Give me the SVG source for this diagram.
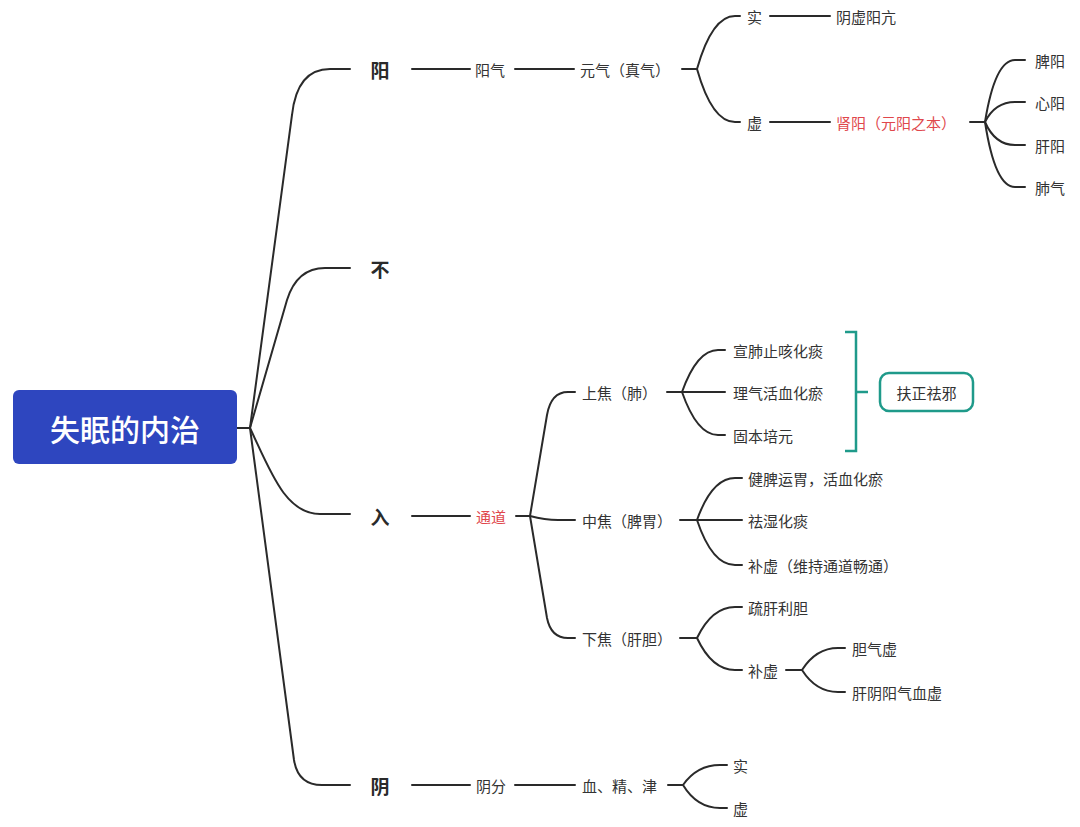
<svg xmlns="http://www.w3.org/2000/svg" width="1080" height="827" viewBox="0 0 1080 827">
<style>
.l{fill:none;stroke:#2a2a2a;stroke-width:2;stroke-linecap:round}
.t{font-family:"Noto Sans CJK SC","Noto Sans",sans-serif;font-size:15px;fill:#333;dominant-baseline:central}
.b{font-family:"Noto Sans CJK SC","Noto Sans",sans-serif;font-size:19px;font-weight:bold;fill:#2a2a2a;dominant-baseline:central;text-anchor:middle}
.r{fill:#e0474c}
.tl{fill:none;stroke:#1f9a8a;stroke-width:2.5}
</style>
<rect width="1080" height="827" fill="#fff"/>
<g id="connectors">
<path class="l" d="M237,428 H250"/>
<path class="l" d="M250,428 L292,115 Q297,69 330,69 H350"/>
<path class="l" d="M250,428 L287,300 Q297,268 325,268 H350"/>
<path class="l" d="M250,428 C270,470 285,514 320,514 H350"/>
<path class="l" d="M250,428 L294,760 Q298,785 322,785 H350"/>
<path class="l" d="M412,69 H470 M515,69 H574 M682,69 H697"/>
<path class="l" d="M697,69 Q712,16 735,16 H740"/>
<path class="l" d="M697,69 Q712,122 735,122 H740"/>
<path class="l" d="M770,16 H830 M770,122 H830 M970,122 H985"/>
<path class="l" d="M985,122 Q995,60 1015,60 H1025"/>
<path class="l" d="M985,122 Q995,102 1015,102 H1025"/>
<path class="l" d="M985,122 Q995,145 1015,145 H1025"/>
<path class="l" d="M985,122 Q995,187 1015,187 H1025"/>
<path class="l" d="M412,516 H470 M516,516 H530"/>
<path class="l" d="M530,516 L547,415 Q551,392 568,392 H575"/>
<path class="l" d="M530,516 Q545,520 558,520 H575"/>
<path class="l" d="M530,516 L547,618 Q551,638 568,638 H575"/>
<path class="l" d="M667,392 H682"/>
<path class="l" d="M682,392 Q697,350 718,350 H725"/>
<path class="l" d="M682,392 H725"/>
<path class="l" d="M682,392 Q697,435 718,435 H725"/>
<path class="l" d="M680,520 H697"/>
<path class="l" d="M697,520 Q712,478 735,478 H742"/>
<path class="l" d="M697,520 H742"/>
<path class="l" d="M697,520 Q712,565 735,565 H742"/>
<path class="l" d="M680,638 H697"/>
<path class="l" d="M697,638 Q712,607 735,607 H742"/>
<path class="l" d="M697,638 Q712,670 735,670 H742"/>
<path class="l" d="M786,670 H802"/>
<path class="l" d="M802,670 Q816,648 838,648 H845"/>
<path class="l" d="M802,670 Q816,692 838,692 H845"/>
<path class="l" d="M412,785 H470 M515,785 H575 M668,785 H683"/>
<path class="l" d="M683,785 Q697,765 720,765 H727"/>
<path class="l" d="M683,785 Q697,808 720,808 H727"/>
<path class="tl" d="M845,332 H856 V451 H845 M856,392 H868"/>
</g>
<g id="root">
<rect x="13" y="390" width="224" height="74" rx="6" fill="#2e46bf"/>
<text x="125" y="428" font-family="'Noto Sans CJK SC',sans-serif" font-size="30" font-weight="500" fill="#fff" text-anchor="middle" dominant-baseline="central">失眠的内治</text>
</g>
<g id="n-yang"><text class="b" x="380" y="69">阳</text></g>
<g id="n-bu"><text class="b" x="380" y="268">不</text></g>
<g id="n-ru"><text class="b" x="380" y="516">入</text></g>
<g id="n-yin"><text class="b" x="380" y="785">阴</text></g>
<g id="n-yangqi"><text class="t" x="475" y="69">阳气</text></g>
<g id="n-yuanqi"><text class="t" x="580" y="69">元气（真气）</text></g>
<g id="n-shi1"><text class="t" x="747" y="16">实</text></g>
<g id="n-xu1"><text class="t" x="747" y="122">虚</text></g>
<g id="n-yxyk"><text class="t" x="836" y="16">阴虚阳亢</text></g>
<g id="n-shenyang"><text class="t r" x="836" y="122">肾阳（元阳之本）</text></g>
<g id="n-piyang"><text class="t" x="1035" y="60">脾阳</text></g>
<g id="n-xinyang"><text class="t" x="1035" y="102">心阳</text></g>
<g id="n-ganyang"><text class="t" x="1035" y="145">肝阳</text></g>
<g id="n-feiqi"><text class="t" x="1035" y="187">肺气</text></g>
<g id="n-tongdao"><text class="t r" x="476" y="516">通道</text></g>
<g id="n-shangjiao"><text class="t" x="582" y="392">上焦（肺）</text></g>
<g id="n-zhongjiao"><text class="t" x="582" y="520">中焦（脾胃）</text></g>
<g id="n-xiajiao"><text class="t" x="582" y="638">下焦（肝胆）</text></g>
<g id="n-s1"><text class="t" x="733" y="350">宣肺止咳化痰</text></g>
<g id="n-s2"><text class="t" x="733" y="392">理气活血化瘀</text></g>
<g id="n-s3"><text class="t" x="733" y="435">固本培元</text></g>
<g id="n-fuzheng">
<rect x="880" y="373" width="93" height="38" rx="9" fill="#fff" stroke="#1f9a8a" stroke-width="2.5"/>
<text class="t" x="926.500" y="392" text-anchor="middle">扶正祛邪</text>
</g>
<g id="n-z1"><text class="t" x="748" y="478">健脾运胃，活血化瘀</text></g>
<g id="n-z2"><text class="t" x="748" y="520">祛湿化痰</text></g>
<g id="n-z3"><text class="t" x="748" y="565">补虚（维持通道畅通）</text></g>
<g id="n-x1"><text class="t" x="748" y="607">疏肝利胆</text></g>
<g id="n-x2"><text class="t" x="748" y="670">补虚</text></g>
<g id="n-x21"><text class="t" x="852" y="648">胆气虚</text></g>
<g id="n-x22"><text class="t" x="852" y="692">肝阴阳气血虚</text></g>
<g id="n-yinfen"><text class="t" x="476" y="785">阴分</text></g>
<g id="n-xjj"><text class="t" x="582" y="785">血、精、津</text></g>
<g id="n-shi2"><text class="t" x="733" y="765">实</text></g>
<g id="n-xu2"><text class="t" x="733" y="808">虚</text></g>
</svg>
